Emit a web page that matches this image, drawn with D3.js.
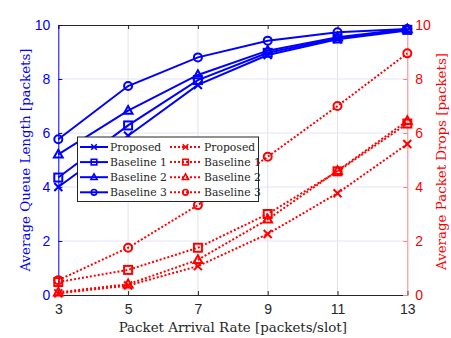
<!DOCTYPE html>
<html><head><meta charset="utf-8">
<script src="https://cdn.jsdelivr.net/npm/d3@7"></script>
<style>body{margin:0;background:#fff}svg{display:block}</style>
</head><body>
<script>
const rates = [3, 5, 7, 9, 11, 13];
const xTicks = [3, 5, 7, 9, 11, 13];
const yTicks = [0, 2, 4, 6, 8, 10];
const seriesNames = ["Proposed", "Baseline 1", "Baseline 2", "Baseline 3"];
const markers = ["x", "square", "triangle", "circle"];
// Average queue length (left axis, blue)
const queueProposed = [4.0, 5.9, 7.78, 8.89, 9.47, 9.8];
const queueB1 = [4.35, 6.28, 7.96, 8.97, 9.5, 9.82];
const queueB2 = [5.21, 6.83, 8.15, 9.05, 9.55, 9.85];
const queueB3 = [5.77, 7.74, 8.8, 9.42, 9.73, 9.85];
// Average packet drops (right axis, red)
const dropProposed = [0.06, 0.35, 1.07, 2.26, 3.77, 5.59];
const dropB1 = [0.48, 0.93, 1.75, 3.0, 4.58, 6.35];
const dropB2 = [0.1, 0.4, 1.3, 2.8, 4.6, 6.45];
const dropB3 = [0.55, 1.75, 3.33, 5.12, 7.0, 8.95];

const queueSeries = [queueProposed, queueB1, queueB2, queueB3];
const dropSeries = [dropProposed, dropB1, dropB2, dropB3];

const W = 451, H = 338;
const m = {l: 58.3, r: 451 - 407.3, t: 25, b: 338 - 295};
const svg = d3.select("body").append("svg").attr("width", W).attr("height", H);
const x = d3.scaleLinear().domain([3, 13]).range([m.l, W - m.r]);
const yL = d3.scaleLinear().domain([0, 10]).range([H - m.b, m.t]);
const yR = d3.scaleLinear().domain([0, 10]).range([H - m.b, m.t]);
const BLUE = "#0000ff", RED = "#ff0000";
const serif = "DejaVu Serif";
const sans = "Liberation Sans";

function setText(sel, size, fam) {
  sel.attr("font-family", fam).attr("font-size", size);
}

// grid
svg.append("g").selectAll("line").data(xTicks.slice(1, -1)).join("line")
  .attr("x1", d => x(d)).attr("x2", d => x(d)).attr("y1", m.t).attr("y2", H - m.b)
  .attr("stroke", "#e3e3e3").attr("stroke-width", 1);
svg.append("g").selectAll("line").data(yTicks.slice(1, -1)).join("line")
  .attr("x1", m.l).attr("x2", W - m.r).attr("y1", d => yL(d)).attr("y2", d => yL(d))
  .attr("stroke", "#e3e3fb").attr("stroke-width", 1);

// axes
const xAxis = svg.append("g").attr("transform", `translate(0,${H - m.b})`)
  .call(d3.axisBottom(x).tickValues(xTicks).tickSize(-4).tickPadding(9));
xAxis.select(".domain").attr("stroke", "#262626");
xAxis.selectAll(".tick line").attr("stroke", "#262626");
setText(xAxis.selectAll("text").attr("fill", "#262626"), 14, sans);

const xTop = svg.append("g").attr("transform", `translate(0,${m.t})`)
  .call(d3.axisTop(x).tickValues(xTicks).tickSize(-4).tickFormat(""));
xTop.select(".domain").attr("stroke", "#262626");
xTop.selectAll(".tick line").attr("stroke", "#262626");

const yAxisL = svg.append("g").attr("transform", `translate(${m.l},0)`)
  .call(d3.axisLeft(yL).tickValues(yTicks).tickSize(-4).tickPadding(8));
yAxisL.select(".domain").attr("stroke", BLUE);
yAxisL.selectAll(".tick line").attr("stroke", BLUE);
setText(yAxisL.selectAll("text").attr("fill", BLUE), 14, sans);

const yAxisR = svg.append("g").attr("transform", `translate(${W - m.r},0)`)
  .call(d3.axisRight(yR).tickValues(yTicks).tickSize(-4).tickPadding(8));
yAxisR.select(".domain").attr("stroke", "#ff8080");
yAxisR.selectAll(".tick line").attr("stroke", "#ff8080");
setText(yAxisR.selectAll("text").attr("fill", RED), 14, sans);

// labels
setText(svg.append("text").attr("x", (m.l + W - m.r) / 2).attr("y", 331.5).attr("text-anchor", "middle")
  .attr("fill", "#262626").text("Packet Arrival Rate [packets/slot]"), 13.4, serif);
setText(svg.append("text").attr("transform", `translate(30,160) rotate(-90)`)
  .attr("text-anchor", "middle").attr("fill", BLUE)
  .text("Average Queue Length [packets]"), 13.4, serif);
setText(svg.append("text").attr("transform", `translate(445.5,161.5) rotate(-90)`)
  .attr("text-anchor", "middle").attr("fill", RED)
  .text("Average Packet Drops [packets]"), 13.4, serif);

function drawMarker(g, type, cx, cy, r, color, sw) {
  if (type === "x") {
    g.append("path").attr("d", `M${cx - r},${cy - r}L${cx + r},${cy + r}M${cx - r},${cy + r}L${cx + r},${cy - r}`)
      .attr("stroke", color).attr("stroke-width", sw).attr("fill", "none");
  } else if (type === "square") {
    g.append("rect").attr("x", cx - r).attr("y", cy - r).attr("width", 2 * r).attr("height", 2 * r)
      .attr("stroke", color).attr("stroke-width", sw).attr("fill", "none");
  } else if (type === "triangle") {
    g.append("path").attr("d", `M${cx},${cy - r * 1.15}L${cx + r * 1.1},${cy + r * 0.8}L${cx - r * 1.1},${cy + r * 0.8}Z`)
      .attr("stroke", color).attr("stroke-width", sw).attr("fill", "none");
  } else {
    g.append("circle").attr("cx", cx).attr("cy", cy).attr("r", r)
      .attr("stroke", color).attr("stroke-width", sw).attr("fill", "none");
  }
}

const line = d3.line();
// red series (drawn first)
dropSeries.forEach((vals, i) => {
  const pts = rates.map((r, j) => [x(r), yR(vals[j])]);
  const g = svg.append("g");
  g.append("path").attr("d", line(pts)).attr("fill", "none").attr("stroke", RED)
    .attr("stroke-width", 2).attr("stroke-dasharray", "2,2");
  pts.forEach(p => drawMarker(g, markers[i], p[0], p[1], 4, RED, 2));
});
// blue series
queueSeries.forEach((vals, i) => {
  const pts = rates.map((r, j) => [x(r), yL(vals[j])]);
  const g = svg.append("g");
  g.append("path").attr("d", line(pts)).attr("fill", "none").attr("stroke", BLUE).attr("stroke-width", 2);
  pts.forEach(p => drawMarker(g, markers[i], p[0], p[1], 4, BLUE, 2));
});

// legend
const lg = svg.append("g");
lg.append("rect").attr("x", 77.5).attr("y", 137).attr("width", 181).attr("height", 64.5)
  .attr("fill", "#fff").attr("stroke", "#262626").attr("stroke-width", 1);
seriesNames.forEach((name, i) => {
  const yy = 147 + i * 15.1;
  lg.append("line").attr("x1", 80).attr("x2", 108).attr("y1", yy).attr("y2", yy)
    .attr("stroke", BLUE).attr("stroke-width", 2);
  drawMarker(lg, markers[i], 94, yy, 2.8, BLUE, 1.6);
  setText(lg.append("text").attr("x", 110).attr("y", yy + 4).attr("fill", "#262626").text(name), 10.8, serif);
  lg.append("line").attr("x1", 170).attr("x2", 201).attr("y1", yy).attr("y2", yy)
    .attr("stroke", RED).attr("stroke-width", 2).attr("stroke-dasharray", "2,2");
  drawMarker(lg, markers[i], 185.5, yy, 2.8, RED, 1.6);
  setText(lg.append("text").attr("x", 204).attr("y", yy + 4).attr("fill", "#262626").text(name), 10.8, serif);
});
</script>
</body></html>
